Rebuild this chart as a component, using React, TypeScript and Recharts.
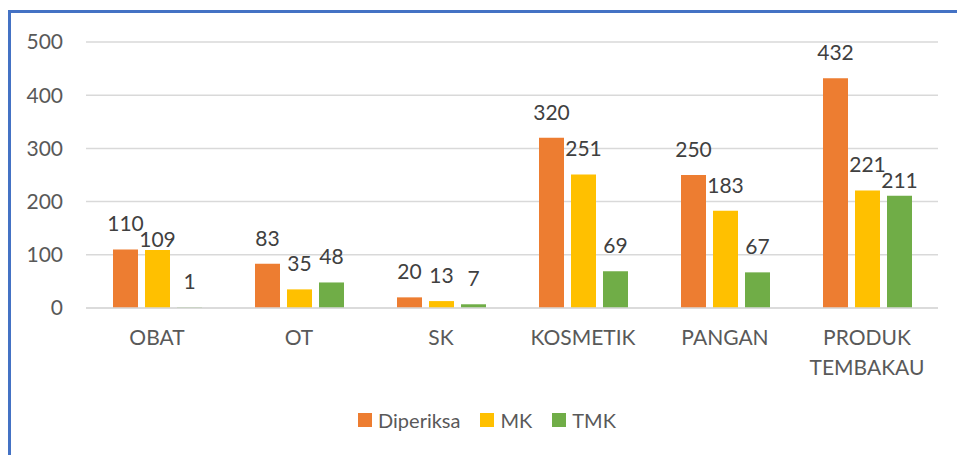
import React from "react";
import { BarChart, Bar, XAxis, YAxis, CartesianGrid, Legend, LabelList } from "recharts";

const categories = ["OBAT", "OT", "SK", "KOSMETIK", "PANGAN", "PRODUK TEMBAKAU"];
const diperiksa = [110, 83, 20, 320, 250, 432];
const mk = [109, 35, 13, 251, 183, 221];
const tmk = [1, 48, 7, 69, 67, 211];
const yTicks = [0, 100, 200, 300, 400, 500];

const data = categories.map((name, i) => ({
  name,
  diperiksa: diperiksa[i],
  mk: mk[i],
  tmk: tmk[i],
}));

const FONT = "Lato, 'Open Sans', sans-serif";
const FS = 21;
const BAR = 25;
const GAP = 7;
const LABEL_GAP = 18;
const TEXT_H = 15;

// Excel wraps the long category label onto two lines
const CategoryTick = (props: any) => {
  const { x, y, payload } = props;
  const text: string = payload.value;
  const lines = text.length > 10 ? text.split(" ") : [text];
  return (
    <text x={x} y={y} textAnchor="middle" fill="#595959" fontSize={FS} fontFamily={FONT}>
      {lines.map((l, i) => (
        <tspan key={i} x={x} dy={i === 0 ? 29 : 30}>
          {l}
        </tspan>
      ))}
    </text>
  );
};

const textW = (v: number) => String(v).length * 0.58 * FS;

// value label above the bar; like Excel, it is pushed down when it would collide
// with the label of the bar just to its left
const ValueLabel = (props: any) => {
  const { x, y, width, height, value, index, prev } = props;
  const cx = x + width / 2;
  let base = y - LABEL_GAP;
  if (prev && value > 0) {
    const pv = prev[index];
    const k = height / value;
    const prevBase = y + (value - pv) * k - LABEL_GAP;
    const hOverlap = textW(pv) / 2 + textW(value) / 2 > width + GAP;
    if (hOverlap && Math.abs(base - prevBase) < TEXT_H + 1 && pv >= value) {
      base = prevBase + TEXT_H + 1;
    }
  }
  return (
    <text x={cx} y={base} textAnchor="middle" fill="#404040" fontSize={FS} fontFamily={FONT}>
      {value}
    </text>
  );
};

const LegendContent = (props: any) => {
  const { payload } = props;
  return (
    <div
      style={{
        display: "flex",
        justifyContent: "center",
        paddingLeft: 36,
        fontFamily: FONT,
        fontSize: 20,
        color: "#595959",
      }}
    >
      {payload.map((p: any, i: number) => (
        <div key={i} style={{ display: "flex", alignItems: "center", marginRight: i < payload.length - 1 ? 20 : 0 }}>
          <span style={{ display: "inline-block", width: 14, height: 14, background: p.color, marginRight: 6 }} />
          <span>{p.value}</span>
        </div>
      ))}
    </div>
  );
};

export default function App() {
  return (
    <div style={{ position: "absolute", left: 0, top: 0, width: 957, height: 455, overflow: "hidden", background: "#fff" }}>
      <div
        style={{
          position: "absolute",
          left: 8,
          top: 10,
          width: 980,
          height: 480,
          borderLeft: "3px solid #4472C4",
          borderTop: "3px solid #4472C4",
        }}
      />
      <div style={{ position: "absolute", left: 0, top: 0 }}>
        <BarChart
          width={957}
          height={455}
          data={data}
          margin={{ top: 42, right: 19, left: 0, bottom: 7 }}
          barCategoryGap="18.5%"
          barGap={GAP}
        >
          <CartesianGrid vertical={false} stroke="#D9D9D9" strokeWidth={1.5} />
          <XAxis
            dataKey="name"
            axisLine={{ stroke: "#D9D9D9", strokeWidth: 1.5 }}
            tickLine={false}
            interval={0}
            height={100}
            tick={<CategoryTick />}
          />
          <YAxis
            domain={[0, 500]}
            ticks={yTicks}
            width={86}
            axisLine={false}
            tickLine={false}
            tickMargin={17}
            tick={{ fill: "#595959", fontSize: FS, fontFamily: FONT }}
          />
          <Legend verticalAlign="bottom" align="center" height={40} content={<LegendContent />} />
          <Bar dataKey="diperiksa" name="Diperiksa" fill="#ED7D31" barSize={BAR} isAnimationActive={false}>
            <LabelList dataKey="diperiksa" content={<ValueLabel />} />
          </Bar>
          <Bar dataKey="mk" name="MK" fill="#FFC000" barSize={BAR} isAnimationActive={false}>
            <LabelList dataKey="mk" content={<ValueLabel prev={diperiksa} />} />
          </Bar>
          <Bar dataKey="tmk" name="TMK" fill="#70AD47" barSize={BAR} isAnimationActive={false}>
            <LabelList dataKey="tmk" content={<ValueLabel prev={mk} />} />
          </Bar>
        </BarChart>
      </div>
    </div>
  );
}
